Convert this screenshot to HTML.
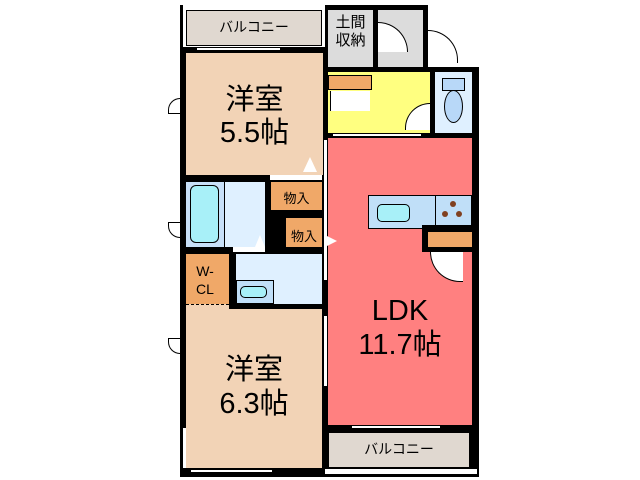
<!DOCTYPE html>
<html><head><meta charset="utf-8"><style>
body{margin:0;width:640px;height:480px;background:#fff;position:relative;overflow:hidden;font-family:"Liberation Sans","Noto Sans CJK JP",sans-serif}
div{position:absolute;box-sizing:border-box}
.k{background:#000}
.t{color:#000;text-align:center;white-space:nowrap}
</style></head><body>
<!-- black base of the building -->
<div class="k" style="left:180px;top:5px;width:148px;height:472px"></div>
<div class="k" style="left:322px;top:5px;width:106px;height:70px"></div>
<div class="k" style="left:322px;top:67px;width:157px;height:410px"></div>
<!-- top balcony -->
<div style="left:183px;top:5px;width:142px;height:42px;background:#fff"></div>
<div style="left:186px;top:10px;width:136px;height:36px;background:#e0d8d0;border:1px solid #000"></div>
<div class="t" style="left:186px;top:17px;width:136px;font-size:14px">バルコニー</div>
<div style="left:196px;top:47px;width:85px;height:4px;background:#fff;border:1px solid #000"></div>
<!-- room 5.5 -->
<div style="left:186px;top:53px;width:137px;height:122px;background:#f2d3b6"></div>
<div class="t" style="left:186px;top:84px;width:137px;font-size:29px;line-height:33px">洋室<br>5.5帖</div>
<div style="left:303px;top:157px;width:0;height:0;border-left:7px solid transparent;border-right:7px solid transparent;border-bottom:15px solid #fff"></div>
<div style="left:270px;top:175px;width:52px;height:5px;background:#fff"></div>
<!-- left door stubs -->
<div style="left:168px;top:98px;width:12px;height:16px;border:1px solid #000;border-right:none;border-radius:12px 0 0 0;background:#fff"></div>
<div style="left:168px;top:222px;width:12px;height:16px;border:1px solid #000;border-right:none;border-radius:0 0 0 12px;background:#fff"></div>
<div style="left:168px;top:338px;width:12px;height:16px;border:1px solid #000;border-right:none;border-radius:0 0 0 12px;background:#fff"></div>
<!-- genkan storage -->
<div style="left:328px;top:10px;width:45px;height:57px;background:#dcdcdc"></div>
<div class="t" style="left:328px;top:14px;width:45px;font-size:15px;line-height:18px">土間<br>収納</div>
<div style="left:378px;top:10px;width:45px;height:57px;background:#dcdcdc"></div>
<div style="left:378px;top:22px;width:30px;height:30px;border:1px solid #000;border-left:none;border-bottom:none;border-radius:0 30px 0 0;background:#fff"></div>
<div style="left:428px;top:30px;width:30px;height:33px;border:1px solid #000;border-left:none;border-bottom:none;border-radius:0 30px 0 0;background:#fff"></div>
<!-- yellow hall -->
<div style="left:328px;top:72px;width:102px;height:61px;background:#ffff80"></div>
<div style="left:328px;top:75px;width:44px;height:15px;background:#f0a868;border:1px solid #000"></div>
<div style="left:330px;top:91px;width:40px;height:20px;background:#fff;border-left:1px solid #000"></div>
<div style="left:405px;top:103px;width:25px;height:27px;border:1px solid #000;border-right:none;border-bottom:none;border-radius:25px 0 0 0;background:#fff"></div>
<div style="left:332px;top:133px;width:90px;height:4px;background:#fff;border:1px solid #000"></div>
<!-- toilet -->
<div style="left:435px;top:72px;width:37px;height:61px;background:#dff0ff"></div>
<div style="left:442px;top:78px;width:23px;height:13px;background:#b8d8f8;border:1px solid #000"></div>
<div style="left:444px;top:90px;width:19px;height:33px;background:#b8d8f8;border:1px solid #000;border-radius:50%"></div>
<!-- LDK -->
<div style="left:328px;top:138px;width:144px;height:287px;background:#ff8080"></div>
<div class="t" style="left:328px;top:294px;width:144px;font-size:29px;line-height:34px">LDK<br>11.7帖</div>
<div style="left:368px;top:195px;width:104px;height:34px;background:#c0dff8;border:1px solid #000"></div>
<div style="left:435px;top:195px;width:1px;height:34px;background:#000"></div>
<div style="left:377px;top:204px;width:33px;height:18px;background:#a8f0f8;border:1px solid #000;border-radius:5px"></div>
<div style="left:450px;top:201px;width:6px;height:6px;background:#804020;border-radius:50%"></div>
<div style="left:442px;top:211px;width:6px;height:6px;background:#804020;border-radius:50%"></div>
<div style="left:456px;top:211px;width:6px;height:6px;background:#804020;border-radius:50%"></div>
<div class="k" style="left:422px;top:225px;width:50px;height:27px"></div>
<div style="left:428px;top:232px;width:44px;height:15px;background:#f0a868"></div>
<div style="left:430px;top:252px;width:33px;height:30px;border:1px solid #000;border-right:none;border-top:none;border-radius:0 0 0 33px;background:#fff"></div>
<!-- bath -->
<div style="left:186px;top:182px;width:79px;height:65px;background:#dff0ff"></div>
<div style="left:186px;top:182px;width:39px;height:65px;background:#c8e0f8;border-right:1px solid #000"></div>
<div style="left:190px;top:185px;width:29px;height:58px;background:#a8f0f8;border:1px solid #000;border-radius:6px"></div>
<div style="left:255px;top:235px;width:0;height:0;border-left:5px solid transparent;border-right:5px solid transparent;border-bottom:12px solid #fff"></div>
<div style="left:233px;top:247px;width:32px;height:5px;background:#fff"></div>
<!-- closets -->
<div style="left:271px;top:182px;width:51px;height:28px;background:#f0a868"></div>
<div class="t" style="left:271px;top:188px;width:51px;font-size:13px">物入</div>
<div style="left:286px;top:218px;width:36px;height:29px;background:#f0a868"></div>
<div class="t" style="left:286px;top:226px;width:36px;font-size:13px">物入</div>
<!-- W-CL / washroom -->
<div style="left:186px;top:254px;width:43px;height:50px;background:#f0a868"></div>
<div class="t" style="left:186px;top:262px;width:38px;font-size:14px;line-height:18px">W-<br>CL</div>
<div style="left:186px;top:304px;width:43px;height:5px;border-top:1px dashed #000;background:#f2d3b6"></div>
<div style="left:236px;top:254px;width:86px;height:50px;background:#dff0ff"></div>
<div style="left:236px;top:280px;width:38px;height:24px;background:#c0dff8;border:1px solid #000"></div>
<div style="left:240px;top:286px;width:27px;height:12px;background:#a8f0f8;border:1px solid #000;border-radius:5px"></div>
<!-- room 6.3 -->
<div style="left:186px;top:309px;width:136px;height:159px;background:#f2d3b6"></div>
<div class="t" style="left:186px;top:353px;width:136px;font-size:29px;line-height:34px">洋室<br>6.3帖</div>
<div style="left:183px;top:428px;width:3px;height:40px;background:#fff"></div>
<div style="left:190px;top:469px;width:83px;height:4px;background:#fff;border:1px solid #000"></div>
<!-- sliding door between rooms and LDK -->
<div style="left:323px;top:140px;width:4px;height:140px;background:#fff;border-left:1px solid #000"></div>
<div style="left:323px;top:316px;width:4px;height:70px;background:#fff;border-left:1px solid #000"></div>
<div style="left:327px;top:236px;width:0;height:0;border-top:5px solid transparent;border-bottom:5px solid transparent;border-left:10px solid #fff"></div>
<!-- bottom balcony -->
<div style="left:351px;top:425px;width:90px;height:4px;background:#fff;border:1px solid #000"></div>
<div style="left:328px;top:432px;width:142px;height:36px;background:#e0d8d0;border:1px solid #000"></div>
<div class="t" style="left:328px;top:439px;width:142px;font-size:14px">バルコニー</div>
<div style="left:325px;top:469px;width:152px;height:5px;background:#fff"></div>
</body></html>
